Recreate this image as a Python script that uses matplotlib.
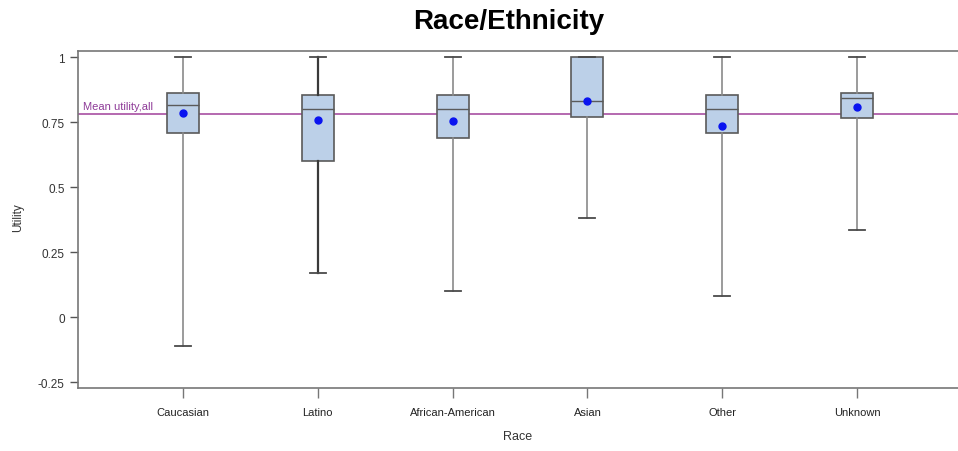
import numpy as np
import matplotlib.pyplot as plt

plt.rcParams['font.family'] = ['Liberation Sans', 'DejaVu Sans']

groups = ['Caucasian', 'Latino', 'African-American', 'Asian', 'Other', 'Unknown']
whisker_lo = [-0.11, 0.17, 0.10, 0.38, 0.08, 0.335]
q1 = [0.709, 0.600, 0.690, 0.769, 0.709, 0.768]
median = [0.817, 0.800, 0.800, 0.831, 0.800, 0.845]
q3 = [0.863, 0.855, 0.855, 1.000, 0.855, 0.863]
whisker_hi = [1.0, 1.0, 1.0, 1.0, 1.0, 1.0]
means = [0.786, 0.759, 0.755, 0.833, 0.737, 0.808]
mean_all = 0.782

fig = plt.figure(figsize=(9.58, 4.52), dpi=100)
ax = fig.add_axes([78 / 958, 1 - 389 / 452, 1 - 78 / 958, (389 - 52) / 452])

stats = []
for i, g in enumerate(groups):
    stats.append(dict(label=g, whislo=whisker_lo[i], q1=q1[i], med=median[i],
                      q3=q3[i], whishi=whisker_hi[i], mean=means[i], fliers=[]))

pos = np.arange(1, len(groups) + 1)
bp = ax.bxp(stats, positions=pos, widths=0.237, patch_artist=True,
            showmeans=True, showfliers=False,
            boxprops=dict(facecolor='#bcd0e8', edgecolor='#5a5a5a', linewidth=1.2),
            medianprops=dict(color='#5a5a5a', linewidth=1.0),
            whiskerprops=dict(color='#8a8a8a', linewidth=1.2),
            capprops=dict(color='#4a4a4a', linewidth=1.3),
            meanprops=dict(marker='o', markerfacecolor='#0a14f0',
                           markeredgecolor='#0a14f0', markersize=5))
# Latino whiskers are drawn heavier
for w in bp['whiskers'][2:4]:
    w.set_color('#3a3a3a')
    w.set_linewidth(1.6)

ax.axhline(mean_all, color='#a0409a', linewidth=1.1, zorder=1)
ax.text(0.26, mean_all + 0.012, 'Mean utility,all', color='#8e3b98',
        fontsize=8, va='bottom', ha='left')

ax.set_xlim(0.222, 6.748)
ax.set_ylim(-0.273, 1.024)
ax.set_yticks([-0.25, 0, 0.25, 0.5, 0.75, 1])
ax.set_yticklabels(['-0.25', '0', '0.25', '0.5', '0.75', '1'])
ax.set_xticks(pos)
ax.set_xticklabels(groups)
ax.tick_params(axis='y', labelsize=8.5, colors='#555555', labelcolor='#333333', length=6, width=1)
ax.tick_params(axis='x', labelsize=8, colors='#777777', labelcolor='#222222', length=7, width=1, pad=7)
for s in ['left', 'top', 'bottom']:
    ax.spines[s].set_color('#777777')
    ax.spines[s].set_linewidth(1.2)
ax.spines['right'].set_visible(False)

fig.text(18 / 958, 1 - 218 / 452, 'Utility', rotation=90, fontsize=8.5,
         color='#333333', ha='center', va='center')
fig.text(518 / 958, 1 - 437 / 452, 'Race', fontsize=9, color='#333333',
         ha='center', va='center')
fig.text(509 / 958, 1 - 22 / 452, 'Race/Ethnicity', fontsize=20,
         fontweight='bold', ha='center', va='center')

fig.savefig('out.png', dpi=100)
